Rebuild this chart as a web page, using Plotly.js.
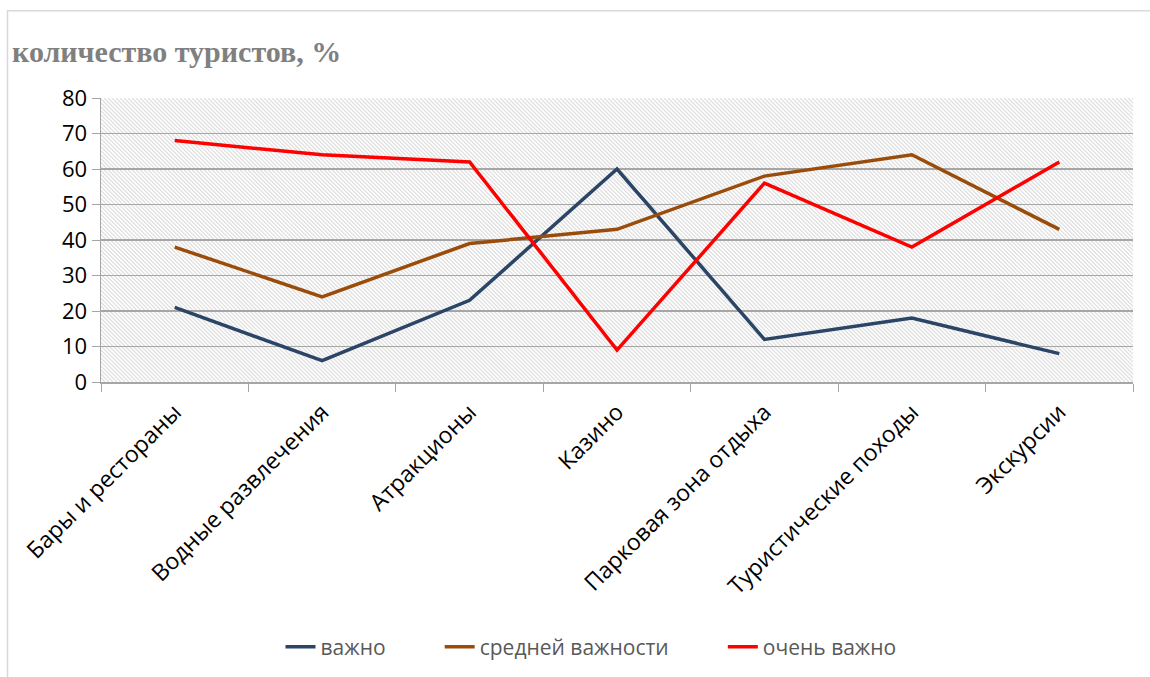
<!DOCTYPE html>
<html><head><meta charset="utf-8">
<script src="https://cdn.plot.ly/plotly-3.0.1.min.js"></script>
<style>html,body{margin:0;padding:0;background:#fff}#c{width:1150px;height:677px}</style>
</head><body><div id="c"></div>
<script>
const categories = ["Бары и рестораны","Водные развлечения","Атракционы","Казино","Парковая зона отдыха","Туристические походы","Экскурсии"];
const vazhno = [21, 6, 23, 60, 12, 18, 8];
const sredney = [38, 24, 39, 43, 58, 64, 43];
const ochen = [68, 64, 62, 9, 56, 38, 62];
const seriesNames = ["важно","средней важности","очень важно"];
const yTicks = [0,10,20,30,40,50,60,70,80];

const W = 1150, H = 677;
const M = {l:101, r:17, t:98, b:294};
const pw = W - M.l - M.r, ph = H - M.t - M.b;

// hatch background as svg image
let lines = "";
for (let k = -ph; k < pw; k += 4) {
  lines += `M${k},0L${k+ph},${ph}`;
}
const svg = `<svg xmlns="http://www.w3.org/2000/svg" width="${pw}" height="${ph}"><rect width="100%" height="100%" fill="white"/><path d="${lines}" stroke="#e0e0e0" stroke-width="1.3" fill="none"/></svg>`;
const hatch = "data:image/svg+xml;base64," + btoa(svg);

const px2x = v => (v - M.l) / pw;
const py2y = v => 1 - (v - M.t) / ph;

const pad = "\u00a0".repeat(9);
const mk = (name, y, color) => ({
  x: categories, y: y, name: name, type: "scatter", mode: "lines",
  line: {color: color, width: 3.5}
});

const data = [
  mk(seriesNames[0] + pad, vazhno, "#2b4566"),
  mk(seriesNames[1] + pad, sredney, "#9a4c0b"),
  mk(seriesNames[2], ochen, "#ff0000")
];

const layout = {
  width: W, height: H,
  margin: M,
  paper_bgcolor: "#fff",
  plot_bgcolor: "rgba(0,0,0,0)",
  font: {family: "'Open Sans', sans-serif", color: "#000"},
  title: {text: "<b>количество туристов, %</b>", x: 12/W, xanchor: "left", y: 1 - 51/H, yanchor: "middle",
    font: {family: "'Liberation Serif', 'DejaVu Serif', serif", size: 30, color: "#808080"}},
  xaxis: {
    type: "category", tickson: "boundaries", ticks: "outside", ticklen: 8, tickcolor: "#a6a6a6",
    showgrid: false, showline: true, linecolor: "#a6a6a6", linewidth: 1.5, ticklabelstandoff: 6,
    tickangle: -45, tickfont: {size: 23, color: "#000"}, range: [-0.5, 6.5], fixedrange: true
  },
  yaxis: {
    range: [0, 80], tickvals: yTicks, ticks: "outside", ticklen: 8, tickcolor: "#a6a6a6",
    showgrid: true, gridcolor: "#a6a6a6", gridwidth: 1.3, showline: true, linecolor: "#a6a6a6", linewidth: 1.5,
    zeroline: false, tickfont: {size: 22, color: "#000"}, fixedrange: true
  },
  legend: {orientation: "h", x: px2x(591), xanchor: "center", y: py2y(647), yanchor: "middle",
    font: {size: 21, color: "#595959"}, bgcolor: "rgba(0,0,0,0)"},
  images: [{source: hatch, xref: "paper", yref: "paper", x: 0, y: 1, sizex: 1, sizey: 1,
    sizing: "stretch", layer: "below", xanchor: "left", yanchor: "top"}],
  shapes: [{type: "rect", xref: "paper", yref: "paper", x0: px2x(7.5), x1: px2x(1165), y0: py2y(690), y1: py2y(10.5),
    line: {color: "#d9d9d9", width: 1.5}, fillcolor: "rgba(0,0,0,0)", layer: "below"}],
  showlegend: true
};

Plotly.newPlot("c", data, layout, {staticPlot: true});
</script></body></html>
